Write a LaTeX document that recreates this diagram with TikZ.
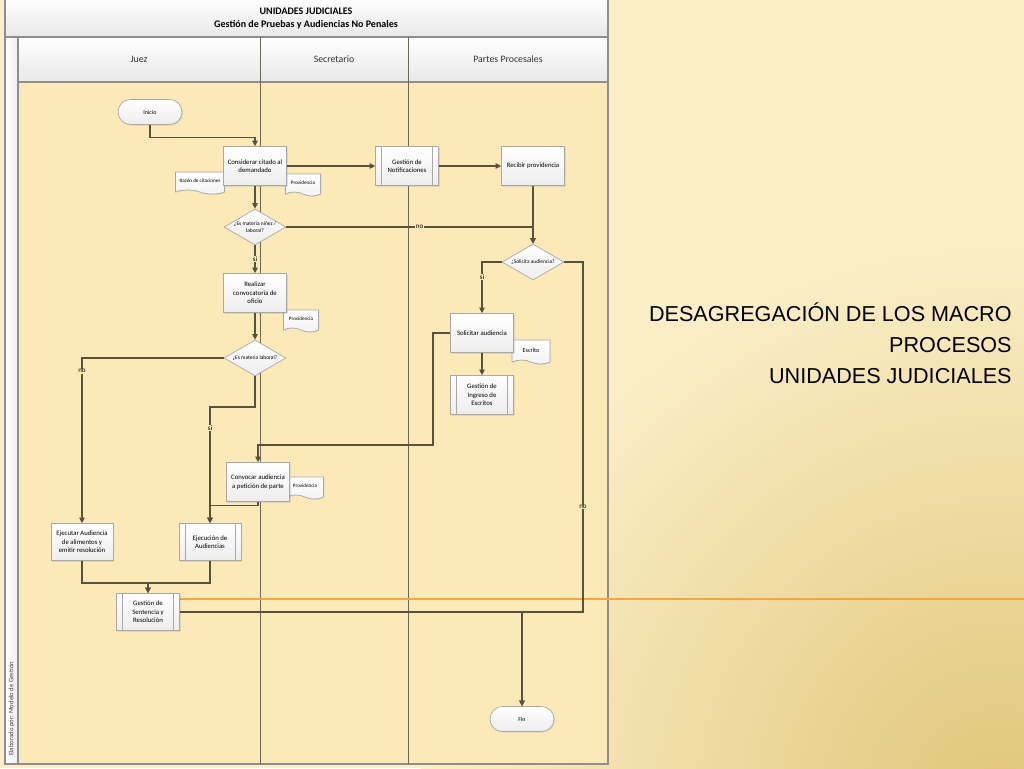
\documentclass[tikz,border=0pt]{standalone}
\usepackage{fontspec}
\setmainfont{Carlito}
\newfontfamily\titlefont{Liberation Sans}
\usetikzlibrary{shapes.geometric,shapes.misc,shapes.symbols,arrows.meta,shadows}
\definecolor{bgA}{HTML}{FCEFC8}
\definecolor{bgB}{HTML}{E0C67A}
\definecolor{lanefill}{HTML}{FBEAB8}
\definecolor{framec}{HTML}{8E8E8E}
\definecolor{lanec}{HTML}{6E6650}
\definecolor{flowc}{HTML}{59513E}
\definecolor{boxc}{HTML}{A8A8A8}
\definecolor{orangec}{HTML}{F2A541}
\tikzset{
  proc/.style={rectangle, draw=boxc, top color=white, bottom color=gray!14,
    minimum width=1.26cm, minimum height=0.78cm, align=center, inner sep=0pt,
    font=\fontsize{3.85}{4.8}\selectfont,
    drop shadow={opacity=.2,shadow xshift=.6pt,shadow yshift=-.6pt}},
  subproc/.style={proc, path picture={
    \draw[boxc] ([xshift=.12cm]path picture bounding box.north west) -- ([xshift=.12cm]path picture bounding box.south west);
    \draw[boxc] ([xshift=-.12cm]path picture bounding box.north east) -- ([xshift=-.12cm]path picture bounding box.south east);}},
  term/.style={rounded rectangle, draw=boxc, top color=white, bottom color=gray!14,
    minimum width=1.28cm, minimum height=0.5cm, inner sep=0pt,
    font=\fontsize{3.4}{4}\selectfont,
    drop shadow={opacity=.2,shadow xshift=.6pt,shadow yshift=-.6pt}},
  decis/.style={diamond, draw=boxc, top color=white, bottom color=gray!14,
    minimum width=1.24cm, minimum height=0.72cm, aspect=1.7, inner sep=0pt,
    align=center, font=\fontsize{3.1}{3.8}\selectfont},
  docu/.style={tape, tape bend top=none, tape bend bottom=out and in,
    tape bend height=0.08cm, draw=boxc, top color=white, bottom color=gray!10,
    minimum height=0.44cm, inner sep=1pt, font=\fontsize{2.9}{3.4}\selectfont,
    drop shadow={opacity=.15,shadow xshift=.5pt,shadow yshift=-.5pt}},
  flow/.style={draw=flowc, line width=.6pt, -{Triangle[length=3.2pt,width=3.2pt]}},
  lbl/.style={font=\fontsize{4}{4.5}\selectfont, fill=lanefill, inner sep=.4pt},
  lanehd/.style={font=\fontsize{5.6}{6}\selectfont, text=black!80}
}
\begin{document}
\begin{tikzpicture}[x=0.02cm,y=-0.02cm]
  \useasboundingbox (0,0) rectangle (1024,768);
  % slide background
  \begin{scope}
    \clip (0,0) rectangle (1024,768);
    \fill[bgA] (0,0) rectangle (1024,768);
    \shade[inner color=bgB, outer color=bgA] (1000,800) circle (580);
  \end{scope}

  % swimlanes
  \shade[top color=white, bottom color=gray!18, draw=framec, line width=.6pt] (5,-2) rectangle (608,37);
  \shade[left color=white, right color=gray!12, draw=framec, line width=.6pt] (5,37) rectangle (18,764);
  \shade[top color=white, bottom color=gray!18, draw=framec, line width=.6pt] (18,37) rectangle (608,82);
  \filldraw[fill=lanefill, draw=framec, line width=.6pt] (18,82) rectangle (608,764);
  \draw[lanec, line width=.5pt] (260,37) -- (260,764);
  \draw[lanec, line width=.5pt] (408,37) -- (408,764);
  \draw[orangec, line width=.9pt] (180,599) -- (1024,599);

  \node[font=\bfseries\fontsize{5.7}{7.4}\selectfont, align=center] (hdr) at (306,18)
    {UNIDADES JUDICIALES\\Gestión de Pruebas y Audiencias No Penales};
  \node[lanehd] (juez) at (139,59) {Juez};
  \node[lanehd] (secr) at (334,59) {Secretario};
  \node[lanehd] (partes) at (508,59) {Partes Procesales};
  \node[rotate=90, anchor=west, font=\fontsize{3.8}{4}\selectfont, text=black!75] (elab) at (11.5,762)
    {Elaborado por: Modelo de Gestión};

  % documents
  \node[docu, minimum width=0.98cm] (razon) at (200,181) {Razón de citaciones};
  \node[docu, minimum width=0.7cm] (prov1) at (303,183) {Providencia};
  \node[docu, minimum width=0.7cm] (prov2) at (301,319) {Providencia};
  \node[docu, minimum width=0.76cm, minimum height=0.48cm, font=\fontsize{3.5}{4}\selectfont] (escr) at (531,350) {Escrito};
  \node[docu, minimum width=0.74cm] (prov3) at (305,486) {Providencia};

  % steps
  \node[term] (ini) at (150,112) {Inicio};
  \node[proc] (cons) at (255,166) {Considerar citado al\\demandado};
  \node[subproc] (notif) at (407,166) {Gestión de\\Notificaciones};
  \node[proc] (recib) at (533,166) {Recibir providencia};
  \node[decis] (dec1) at (255,227) {¿Es materia niñez /\\laboral?};
  \node[decis] (dec2) at (533,262) {¿Solicita audiencia?};
  \node[proc] (real) at (255,293) {Realizar\\convocatoria de\\oficio};
  \node[decis] (dec3) at (255,358) {¿Es materia laboral?};
  \node[proc] (solic) at (482,333) {Solicitar audiencia};
  \node[subproc] (ingr) at (482,395) {Gestión de\\Ingreso de\\Escritos};
  \node[proc] (conv) at (258,482) {Convocar audiencia\\a petición de parte};
  \node[proc, minimum width=1.24cm, minimum height=0.74cm] (ejal) at (82,542) {Ejecutar Audiencia\\de alimentos y\\emitir resolución};
  \node[subproc, minimum width=1.24cm, minimum height=0.74cm] (ejau) at (210,542) {Ejecución de\\Audiencias};
  \node[subproc, minimum height=0.74cm] (sent) at (148,612) {Gestión de\\Sentencia y\\Resolución};
  \node[term] (fin) at (522,719) {Fin};

  \coordinate (k1) at (210,407);
  \coordinate (k2) at (583,612);
  \coordinate (k3) at (433,445);
  \coordinate (k5) at (148,583);

  \draw[flow] (ini.south) -- ++(0,13) -| (cons.north);
  \draw[flow] (cons.east) -- (notif.west);
  \draw[flow] (notif.east) -- (recib.west);
  \draw[flow] (cons.south) -- (dec1.north);
  \draw[flow] (dec1.east) -| node[lbl,pos=.27] {no} (dec2.north);
  \draw[flow] (recib.south) -- (dec2.north);
  \draw[flow] (dec1.south) -- node[lbl] {si} (real.north);
  \draw[flow] (real.south) -- (dec3.north);
  \draw[flow] (dec3.west) -| node[lbl,pos=.54] {no} (ejal.north);
  \draw[flow] (dec3.south) |- (k1) -- node[lbl,pos=.18] {si} (ejau.north);
  \draw[flow] (dec2.west) -| node[lbl,pos=.65] {si} (solic.north);
  \draw[flow] (dec2.east) -| node[lbl,pos=.85] {no} (k2) -| (fin.north);
  \draw[flow] (solic.south) -- (ingr.north);
  \draw[flow] (solic.west) -| (k3) -| (conv.north);
  \draw[flow] (conv.south) -- ++(0,4) -| (ejau.north);
  \draw[flow] (ejal.south) |- (k5) -- (sent.north);
  \draw[flow] (ejau.south) |- (k5) -- (sent.north);
  \draw[flow] (sent.east) -| (fin.north);

  \node[anchor=east, align=right, inner sep=0pt, font=\titlefont\fontsize{12.3}{17.6}\selectfont] (tit) at (1012,343)
    {DESAGREGACIÓN DE LOS MACRO\\PROCESOS\\UNIDADES JUDICIALES};
\end{tikzpicture}
\end{document}
